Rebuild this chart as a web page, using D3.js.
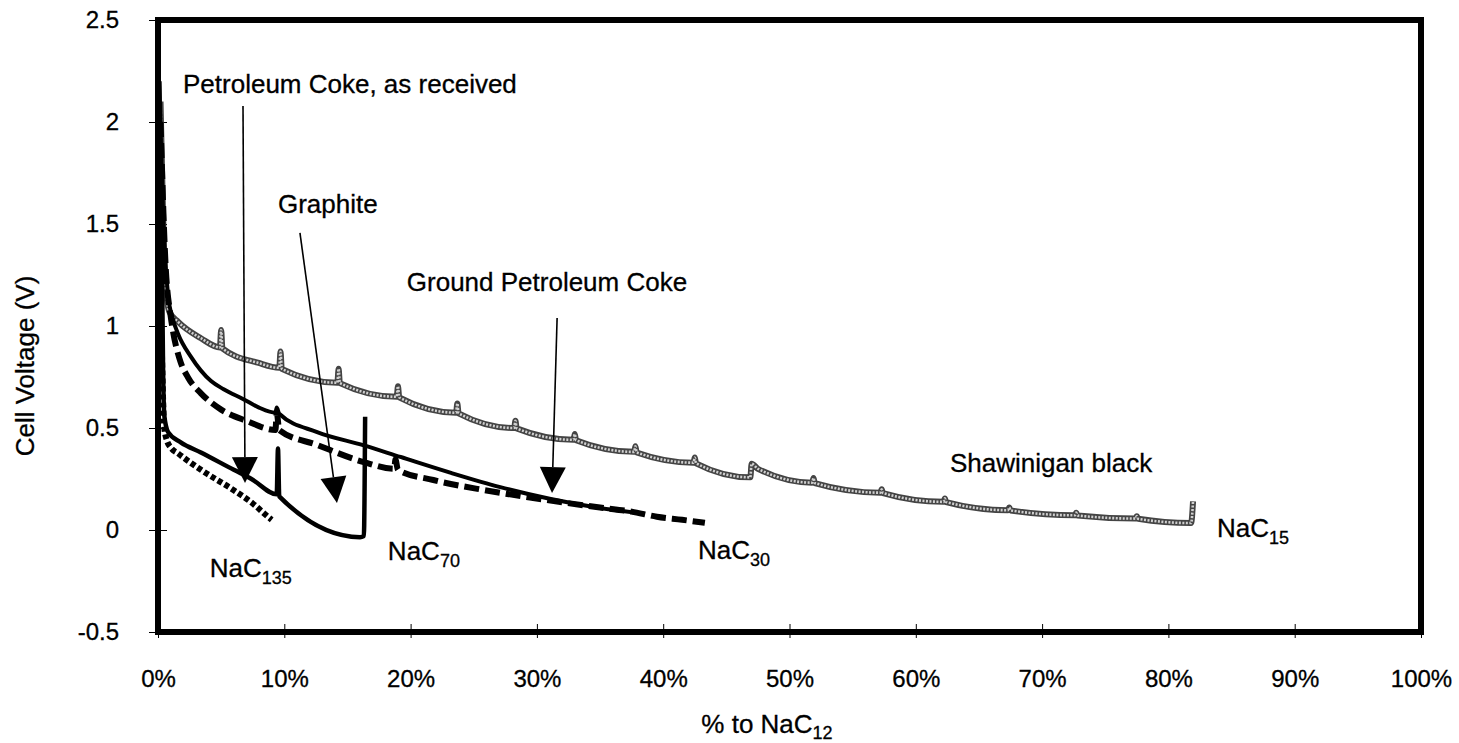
<!DOCTYPE html>
<html>
<head>
<meta charset="utf-8">
<script src="https://cdn.jsdelivr.net/npm/d3@7"></script>
<style>
  body { margin: 0; background: #fff; }
  svg text { font-family: "Liberation Sans", Arial, sans-serif; fill: #000; stroke: #000; stroke-width: 0.3px; }
</style>
</head>
<body>
<svg id="chart" width="1459" height="743"></svg>
<script>
// all series are [% to NaC12, cell voltage (V)]
var shawinigan = [
  [0.2, 2.1], [0.4, 1.55], [0.6, 1.2], [0.9, 1.07], [1.6, 1.02], [3.4, 0.94],
  [4.9, 0.895], [5.0, 0.98], [5.1, 0.89], [7.9, 0.82],
  [9.6, 0.795], [9.7, 0.875], [9.8, 0.79],
  [14.2, 0.722], [14.3, 0.79], [14.4, 0.72],
  [18.9, 0.653], [19.0, 0.705], [19.1, 0.65],
  [23.6, 0.575], [23.7, 0.62], [23.8, 0.572],
  [28.2, 0.50], [28.3, 0.535], [28.4, 0.498],
  [32.9, 0.442], [33.0, 0.47], [33.1, 0.44],
  [37.7, 0.383], [37.8, 0.41], [37.9, 0.38],
  [42.4, 0.33], [42.5, 0.355], [42.6, 0.327],
  [46.9, 0.258], [47.0, 0.325], [47.5, 0.30],
  [51.8, 0.232], [51.9, 0.255], [52.0, 0.23],
  [57.2, 0.183], [57.3, 0.20], [57.4, 0.181],
  [62.2, 0.138], [62.3, 0.155], [62.4, 0.137],
  [67.3, 0.097], [67.4, 0.11], [67.5, 0.096],
  [72.6, 0.072], [72.7, 0.085], [72.8, 0.071],
  [77.4, 0.056], [77.5, 0.068], [77.6, 0.055],
  [81.8, 0.034], [81.95, 0.14]
];

var groundCokeSolid = [
  [0.1, 2.2], [0.5, 1.4], [0.8, 1.15], [1.2, 1.03], [1.6, 0.96], [2.6, 0.85],
  [4.2, 0.73], [5.2, 0.69], [6.8, 0.64], [8.0, 0.60], [9.3, 0.575], [9.4, 0.60],
  [9.6, 0.57], [12.6, 0.48], [16.3, 0.415], [19.2, 0.358], [23.2, 0.28],
  [27.1, 0.21], [31.1, 0.152], [35.0, 0.108], [38.5, 0.08]
];

var groundCokeDashed = [
  [0.2, 2.0], [0.6, 1.3], [1.0, 1.05], [1.2, 0.97], [1.7, 0.84], [2.4, 0.745],
  [3.4, 0.67], [5.0, 0.59], [7.0, 0.535], [9.3, 0.49], [9.4, 0.575], [9.6, 0.49],
  [12.6, 0.417], [16.3, 0.333], [18.7, 0.30], [18.8, 0.345], [19.0, 0.295],
  [21.8, 0.245], [25.8, 0.196], [29.7, 0.157], [35.0, 0.11], [37.5, 0.09],
  [39.5, 0.065], [41.5, 0.05], [43.3, 0.035]
];

var graphite = [
  [0.1, 2.2], [0.3, 1.4], [0.4, 0.8], [0.5, 0.56], [0.8, 0.48], [1.8, 0.43],
  [3.4, 0.38], [6.0, 0.295], [7.4, 0.25], [9.4, 0.175], [9.5, 0.40],
  [9.6, 0.165], [16.0, -0.035], [16.3, -0.03], [16.4, 0.555]
];

var cokeAsReceived = [
  [0.3, 0.9], [0.5, 0.5], [0.7, 0.44], [1.0, 0.405], [1.6, 0.375], [3.4, 0.295],
  [6.0, 0.195], [7.5, 0.13], [8.7, 0.065], [9.0, 0.05]
];

var xTicks = [0, 10, 20, 30, 40, 50, 60, 70, 80, 90, 100];
var yTicks = [-0.5, 0, 0.5, 1, 1.5, 2, 2.5];

var curveLabels = [
  { text: "Petroleum Coke, as received", x: 1.98, y: 2.142 },
  { text: "Graphite", x: 9.5, y: 1.554 },
  { text: "Ground Petroleum Coke", x: 19.7, y: 1.172 },
  { text: "Shawinigan black", x: 62.7, y: 0.284 }
];

var phaseLabels = [
  { base: "NaC", sub: "135", x: 4.1, y: -0.23 },
  { base: "NaC", sub: "70", x: 18.2, y: -0.147 },
  { base: "NaC", sub: "30", x: 42.76, y: -0.142 },
  { base: "NaC", sub: "15", x: 83.85, y: -0.034 }
];

var arrows = [
  { x1: 6.73, y1: 2.078, x2: 6.89, y2: 0.23 },
  { x1: 11.24, y1: 1.456, x2: 14.17, y2: 0.132 },
  { x1: 31.6, y1: 1.039, x2: 31.2, y2: 0.181 }
];

var svg = d3.select("#chart");

var x = d3.scaleLinear().domain([0, 100]).range([158, 1421]);
var y = d3.scaleLinear().domain([-0.5, 2.5]).range([632, 20]);

// axes (ticks cross the frame)
var gy = svg.append("g")
    .attr("transform", "translate(" + x(0) + ",0)")
    .call(d3.axisLeft(y).tickValues(yTicks).tickSize(8).tickPadding(31)
      .tickFormat(function(d) { return String(d); }));
gy.select(".domain").remove();
gy.selectAll(".tick line").attr("x1", -9).attr("x2", 9).attr("stroke", "#000");
gy.selectAll(".tick text").style("font-size", "24px");

var gx = svg.append("g")
    .attr("transform", "translate(0," + y(-0.5) + ")")
    .call(d3.axisBottom(x).tickValues(xTicks).tickSize(8).tickPadding(30)
      .tickFormat(function(d) { return d + "%"; }));
gx.select(".domain").remove();
gx.selectAll(".tick line").attr("y1", -8).attr("y2", 6).attr("stroke", "#000");
gx.selectAll(".tick text").style("font-size", "24px");

var line = d3.line()
    .x(function(d) { return x(d[0]); })
    .y(function(d) { return y(d[1]); })
    .curve(d3.curveMonotoneX);

// Shawinigan black: hatched grey trace
svg.append("path").datum(shawinigan)
    .attr("d", line).attr("fill", "none")
    .attr("stroke", "#444").attr("stroke-width", 6)
    .attr("stroke-linejoin", "round");
svg.append("path").datum(shawinigan)
    .attr("d", line).attr("fill", "none")
    .attr("stroke", "#d0d0d0").attr("stroke-width", 2.6)
    .attr("stroke-dasharray", "2,1.5");

svg.append("path").datum(groundCokeSolid)
    .attr("d", line).attr("fill", "none")
    .attr("stroke", "#000").attr("stroke-width", 4)
    .attr("stroke-linejoin", "round");

svg.append("path").datum(groundCokeDashed)
    .attr("d", line).attr("fill", "none")
    .attr("stroke", "#000").attr("stroke-width", 6)
    .attr("stroke-dasharray", "15,6");

svg.append("path").datum(graphite)
    .attr("d", line).attr("fill", "none")
    .attr("stroke", "#000").attr("stroke-width", 4.5)
    .attr("stroke-linejoin", "round");

svg.append("path").datum(cokeAsReceived)
    .attr("d", line).attr("fill", "none")
    .attr("stroke", "#000").attr("stroke-width", 6)
    .attr("stroke-dasharray", "5,3");

// plot frame
svg.append("rect")
    .attr("x", x(0)).attr("y", y(2.5))
    .attr("width", x(100) - x(0)).attr("height", y(-0.5) - y(2.5))
    .attr("fill", "none").attr("stroke", "#000").attr("stroke-width", 6);

// arrows
arrows.forEach(function(a) {
  var sx = x(a.x1), sy = y(a.y1), tx = x(a.x2), ty = y(a.y2);
  var ang = Math.atan2(ty - sy, tx - sx);
  var len = 26, hw = 13;
  var bx = tx - len * Math.cos(ang), by = ty - len * Math.sin(ang);
  svg.append("line")
      .attr("x1", sx).attr("y1", sy).attr("x2", bx).attr("y2", by)
      .attr("stroke", "#000").attr("stroke-width", 1.6);
  var px = -Math.sin(ang), py = Math.cos(ang);
  svg.append("path")
      .attr("d", "M" + tx + "," + ty +
                 "L" + (bx + hw * px) + "," + (by + hw * py) +
                 "L" + (bx - hw * px) + "," + (by - hw * py) + "Z")
      .attr("fill", "#000");
});

svg.selectAll(".curve-label")
  .data(curveLabels)
  .enter().append("text")
    .attr("class", "curve-label")
    .attr("x", function(d) { return x(d.x); })
    .attr("y", function(d) { return y(d.y); })
    .style("font-size", "26px")
    .text(function(d) { return d.text; });

var pl = svg.selectAll(".phase-label")
  .data(phaseLabels)
  .enter().append("text")
    .attr("class", "phase-label")
    .attr("x", function(d) { return x(d.x); })
    .attr("y", function(d) { return y(d.y); })
    .style("font-size", "26px");
pl.append("tspan").text(function(d) { return d.base; });
pl.append("tspan").attr("dy", 7).style("font-size", "18px")
    .text(function(d) { return d.sub; });

// axis titles
var xt = svg.append("text")
    .attr("x", 767).attr("y", 733)
    .attr("text-anchor", "middle")
    .style("font-size", "26px");
xt.append("tspan").text("% to NaC");
xt.append("tspan").attr("dy", 6).style("font-size", "18px").text("12");

svg.append("text")
    .attr("transform", "translate(34,366) rotate(-90)")
    .attr("text-anchor", "middle")
    .style("font-size", "26px")
    .text("Cell Voltage (V)");
</script>
</body>
</html>
